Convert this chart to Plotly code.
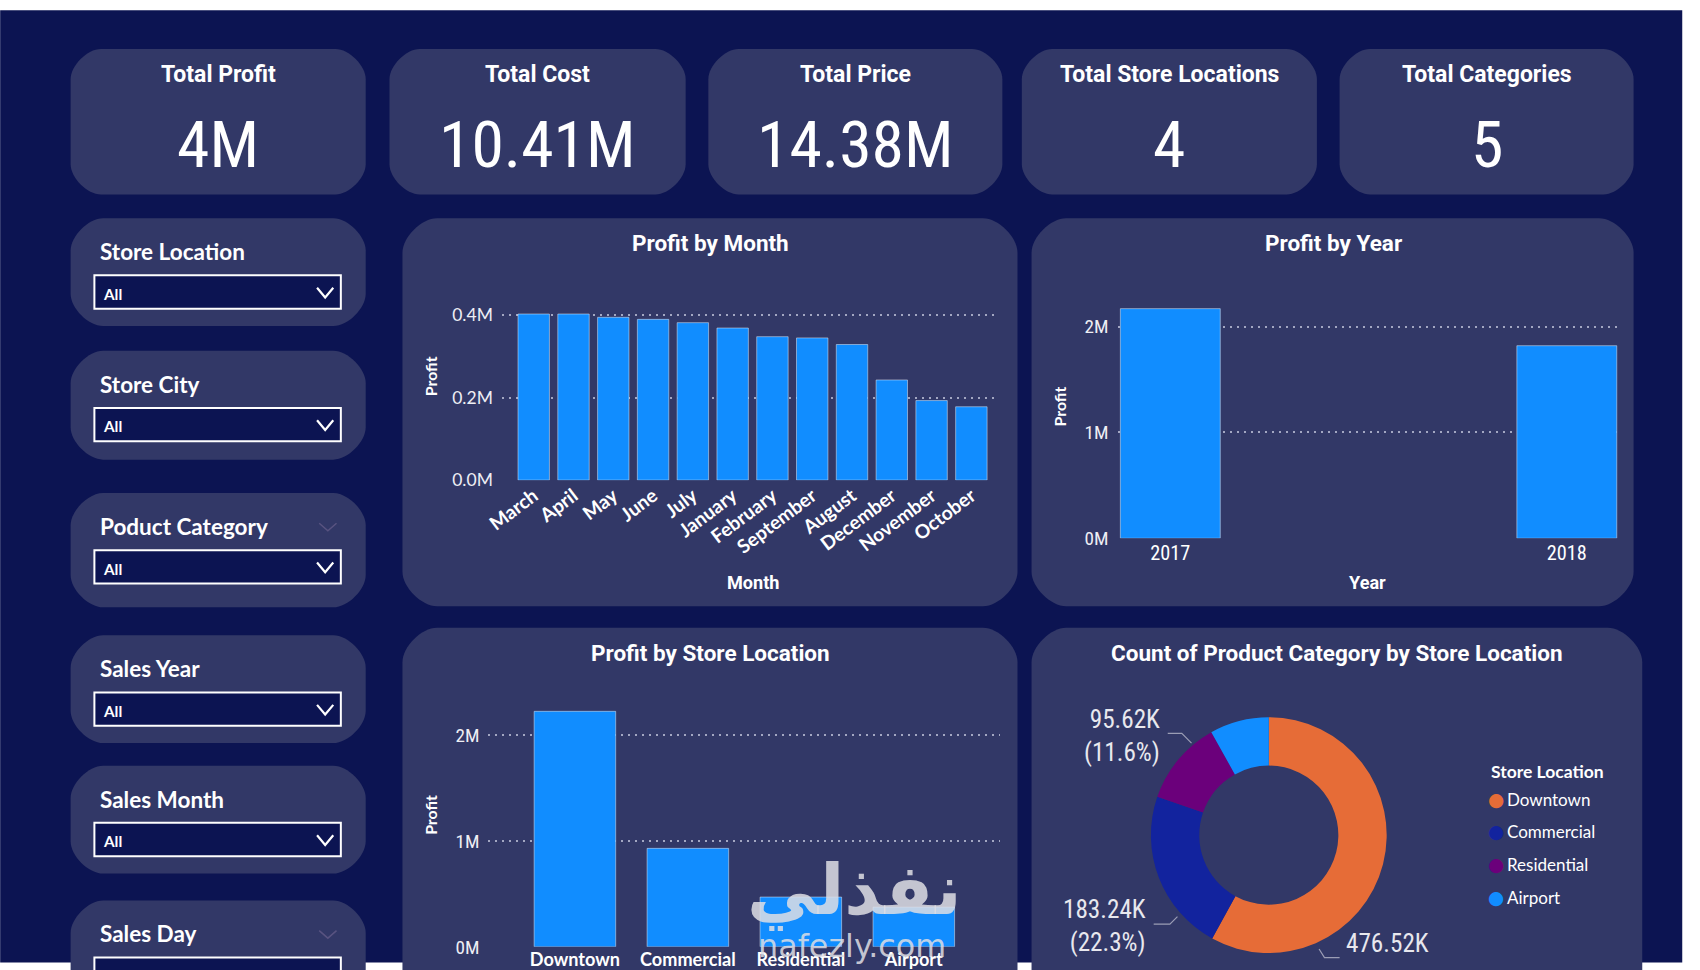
import plotly.graph_objects as go

# ---- data (profits in millions, counts in thousands) ----
kpi_titles = ["Total Profit", "Total Cost", "Total Price", "Total Store Locations", "Total Categories"]
kpi_values = ["4M", "10.41M", "14.38M", "4", "5"]

slicer_titles = ["Store Location", "Store City", "Poduct Category", "Sales Year", "Sales Month", "Sales Day"]
slicer_values = ["All", "All", "All", "All", "All", "All"]

months = ["March", "April", "May", "June", "July", "January", "February",
          "September", "August", "December", "November", "October"]
month_profit = [0.403, 0.403, 0.395, 0.390, 0.382, 0.369, 0.348, 0.345, 0.329, 0.243, 0.193, 0.178]

years = ["2017", "2018"]
year_profit = [2.17, 1.82]

locations = ["Downtown", "Commercial", "Residential", "Airport"]
location_profit = [2.225, 0.93, 0.47, 0.375]
location_count = [476.52, 183.24, 95.62, 66.62]

# ---- look ----
W, H = 1700, 970
SX = W / 1568  # layout measured on a 1568x895 copy of the report
# the photographed page comes out slightly shrunk and shifted; undo it
OFF_X, K_X = 10.4, 0.993
OFF_Y, K_Y = 0.5, 0.988
BG = "#0c1452"
CARD = "#323867"
BLUE = "#118dff"
LOC_COLORS = ["#e66c37", "#12239e", "#6b007b", "#118dff"]
DIN = "Liberation Sans Narrow, Roboto Condensed, Roboto, sans-serif"
DINB = "Roboto, Liberation Sans, sans-serif"
SEG = "Lato, Open Sans, sans-serif"
GRID = "#a3a7c2"
TXT = "#ffffff"


def px(x):
    return (x - OFF_X) / K_X / 1568


def py(y):
    return 1 - (y - OFF_Y) / K_Y / 895


def fs(s):
    return round(s * SX / 0.99, 1)


def pt(x, y):
    return f"{px(x):.5f},{py(y):.5f}"


def rr_path(x0, y0, x1, y1, r):
    k = r * 0.45
    return (f"M {pt(x0 + r, y0)} L {pt(x1 - r, y0)} "
            f"C {pt(x1 - r + k, y0)} {pt(x1, y0 + r - k)} {pt(x1, y0 + r)} "
            f"L {pt(x1, y1 - r)} "
            f"C {pt(x1, y1 - r + k)} {pt(x1 - r + k, y1)} {pt(x1 - r, y1)} "
            f"L {pt(x0 + r, y1)} "
            f"C {pt(x0 + r - k, y1)} {pt(x0, y1 - r + k)} {pt(x0, y1 - r)} "
            f"L {pt(x0, y0 + r)} "
            f"C {pt(x0, y0 + r - k)} {pt(x0 + r - k, y0)} {pt(x0 + r, y0)} Z")


shapes = []
annotations = []


def card(x0, y0, x1, y1, r=28):
    shapes.append(dict(type="path", path=rr_path(x0, y0, x1, y1, r), xref="paper", yref="paper",
                       fillcolor=CARD, line=dict(width=0), layer="below"))


def text(x, y, s, size, family=DIN, color=TXT, xanchor="center", angle=0, align="center"):
    annotations.append(dict(x=px(x), y=py(y), xref="paper", yref="paper", text=s, showarrow=False,
                            xanchor=xanchor, yanchor="middle", textangle=angle, align=align,
                            font=dict(family=family, size=fs(size), color=color)))


def polyline(points, color, width):
    d = "M " + " L ".join(pt(x, y) for x, y in points)
    shapes.append(dict(type="path", path=d, xref="paper", yref="paper",
                       line=dict(color=color, width=width)))


# page background (white strip on top, navy report canvas)
shapes.append(dict(type="rect", xref="paper", yref="paper", x0=-0.01, x1=px(1551), y0=py(10), y1=-0.01,
                   fillcolor=BG, line=dict(width=0), layer="below"))

# KPI cards
kpi_x = [(60, 333), (355, 629), (650, 922), (940, 1213), (1234, 1506)]
for (x0, x1), t, v in zip(kpi_x, kpi_titles, kpi_values):
    card(x0, 46, x1, 181)
    text((x0 + x1) / 2, 70, f"<b>{t}</b>", 21, family=DINB)
    text((x0 + x1) / 2, 135, v, 60)

# slicers
slicer_tops = [203, 326, 458, 590, 711, 836]
slicer_bottoms = [303, 427, 564, 690, 811, 960]
for top, bot, t, v in zip(slicer_tops, slicer_bottoms, slicer_titles, slicer_values):
    card(60, top, 333, bot, 30)
    text(85, top + 31, f"<b>{t}</b>", 20.5, family=SEG, xanchor="left")
    shapes.append(dict(type="rect", xref="paper", yref="paper", x0=px(82), x1=px(310),
                       y0=py(top + 53), y1=py(top + 84), fillcolor=BG, line=dict(color="#ffffff", width=2)))
    cy = top + 69
    if cy < 880:
        polyline([(288, cy - 4.5), (295.5, cy + 4.5), (303, cy - 4.5)], "#ffffff", 2.2)
        text(88, cy + 1, f"<b>{v}</b>", 14, family=SEG, xanchor="left")
    if t in ("Poduct Category", "Sales Day"):
        polyline([(290, top + 28), (298, top + 35), (306, top + 28)], "rgba(120,105,150,0.55)", 1.5)

# chart panels
card(367, 203, 936, 563, 32)
card(949, 203, 1506, 563, 32)
card(367, 583, 936, 960, 32)
card(949, 583, 1514, 960, 32)

text(652, 226, "<b>Profit by Month</b>", 20.5, family=DINB)
text(1228, 226, "<b>Profit by Year</b>", 20.5, family=DINB)
text(652, 606, "<b>Profit by Store Location</b>", 20.5, family=DINB)
text(1232, 606, "<b>Count of Product Category by Store Location</b>", 20.5, family=DINB)

text(393, 350, "<b>Profit</b>", 14.5, family=SEG, angle=-90)
text(975, 378, "<b>Profit</b>", 14.5, family=SEG, angle=-90)
text(393, 757, "<b>Profit</b>", 14.5, family=SEG, angle=-90)
text(691, 541, "<b>Month</b>", 16.5, family=DINB)
text(1260, 541, "<b>Year</b>", 16.5, family=DINB)

fig = go.Figure()
fig.add_trace(go.Bar(x=months, y=month_profit, width=0.79, marker_color=BLUE, xaxis="x", yaxis="y"))
fig.add_trace(go.Bar(x=years, y=year_profit, width=0.252, marker_color=BLUE, xaxis="x2", yaxis="y2"))
fig.add_trace(go.Bar(x=locations, y=location_profit, width=0.722, marker_color=BLUE, xaxis="x3", yaxis="y3"))

fig.add_trace(go.Pie(labels=locations, values=location_count, hole=0.59, sort=False,
                     direction="clockwise", rotation=0, textinfo="none",
                     marker=dict(colors=LOC_COLORS, line=dict(width=0)),
                     domain=dict(x=[px(1058), px(1279)], y=[max(0.0, py(887)), py(666)])))

# donut labels from the counts (the Downtown share falls below the page edge)
total = sum(location_count)
label_pos = {"Residential": (1070, 683, "right", True), "Commercial": (1057, 860, "right", True),
             "Downtown": (1238, 876, "left", False)}
for name, val in zip(locations, location_count):
    if name in label_pos:
        x, y, anc, share = label_pos[name]
        s = f"{val:.2f}K" + (f"<br>({val / total:.1%})" if share else "")
        text(x, y, s, 23, color="#e8e8ee", xanchor=anc, align=anc)
polyline([(1075, 681), (1088, 681), (1097, 690)], "#9b9db5", 1.2)
polyline([(1062, 858), (1077, 858), (1084, 851)], "#9b9db5", 1.2)
polyline([(1215, 881), (1220, 889), (1234, 889)], "#9b9db5", 1.2)

# legend
text(1372, 716, "<b>Store Location</b>", 16, family=SEG, xanchor="left")
for i, (name, col) in enumerate(zip(locations, LOC_COLORS)):
    yy = 742 + i * 30.3
    text(1379, yy, "●", 17, family="DejaVu Sans", color=col)
    text(1387, yy, name, 15.5, family=SEG, xanchor="left")

# watermark
annotations.append(dict(x=px(785), y=py(866), xref="paper", yref="paper", text="<b>نفذلي</b>",
                        showarrow=False, font=dict(family="DejaVu Sans", size=fs(64),
                                                   color="rgba(222,222,228,0.85)")))
annotations.append(dict(x=px(783), y=py(897), xref="paper", yref="paper", text="nafezly.com",
                        showarrow=False, font=dict(family="DejaVu Sans", size=fs(29),
                                                   color="rgba(222,222,228,0.85)")))

ytick = dict(showgrid=True, gridcolor=GRID, griddash="2px,5px", gridwidth=1.6, zeroline=False,
             showline=False, ticks="", ticklabelstandoff=8, fixedrange=True)
xtick = dict(showgrid=False, zeroline=False, showline=False, ticks="", fixedrange=True)

fig.update_layout(
    width=W, height=H, margin=dict(l=0, r=0, t=0, b=0),
    paper_bgcolor="#ffffff", plot_bgcolor="rgba(0,0,0,0)",
    showlegend=False, shapes=shapes, annotations=annotations,
    xaxis=dict(domain=[px(459), px(918)], range=[-0.8, 11.67], anchor="y", tickangle=-37,
               tickfont=dict(family=SEG, size=fs(17.5), color=TXT, weight="bold"), **xtick),
    yaxis=dict(domain=[py(446), py(280)], range=[0, 0.434], dtick=0.2, tickformat=".1f",
               ticksuffix="M", anchor="x",
               tickfont=dict(family=SEG, size=fs(16), color="#eeeef4"), **ytick),
    xaxis2=dict(domain=[px(1028.6), px(1493)], range=[-0.133, 1.133], anchor="y2",
                tickfont=dict(family=DIN, size=fs(18.5), color=TXT), **xtick),
    yaxis2=dict(domain=[py(500), py(280)], range=[0, 2.24], dtick=1, ticksuffix="M", anchor="x2",
                tickfont=dict(family=DIN, size=fs(17.5), color="#eeeef4"), **ytick),
    xaxis3=dict(domain=[px(446.6), px(919.5)], range=[-0.765, 3.76], anchor="y3",
                tickfont=dict(family=SEG, size=fs(16.5), color=TXT, weight="bold"), **xtick),
    yaxis3=dict(domain=[py(879), py(640)], range=[0, 2.434], dtick=1, ticksuffix="M", anchor="x3",
                tickfont=dict(family=DIN, size=fs(17.5), color="#eeeef4"), **ytick),
)

fig.write_html("out.html", config={"displayModeBar": False},
               post_script="document.body.style.margin='0px';document.body.style.overflow='hidden';"
                           "document.body.style.background='#0c1452';")
